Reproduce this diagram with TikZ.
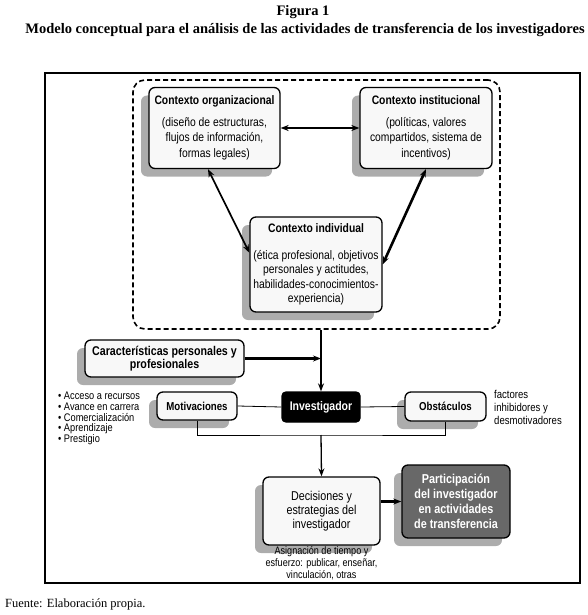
\documentclass[tikz,border=0pt]{standalone}
\usepackage{fontspec}
\setmainfont{Liberation Serif}
\newfontfamily\narrowsans[FakeStretch=0.84]{Liberation Sans}
\usetikzlibrary{arrows.meta,shadows,positioning}
\definecolor{boxfill}{RGB}{248, 248, 248}
\definecolor{shadowgray}{RGB}{172, 172, 172}
\definecolor{darkbox}{RGB}{104, 104, 104}

\tikzset{
  grayshadow/.style={drop shadow={shadow xshift=-8pt, shadow yshift=-8pt, fill=shadowgray, opacity=1}},
  ctxbox/.style={draw, line width=1.3pt, rounded corners=6pt, fill=boxfill, align=center, inner sep=1pt,
    font=\narrowsans\fontsize{12.3}{15.5}\selectfont, grayshadow},
  smallbox/.style={ctxbox, font=\narrowsans\bfseries\fontsize{11.5}{13}\selectfont},
  plaintext/.style={font=\narrowsans\fontsize{11}{10.7}\selectfont, inner sep=0pt},
  link/.style={-{Stealth[length=8pt, width=6pt]}, line width=1.6pt},
  twoway/.style={{Stealth[length=8pt, width=6pt]}-{Stealth[length=8pt, width=6pt]}, line width=1.5pt}
}

\begin{document}
\begin{tikzpicture}[x=1pt, y=-1pt]
  \useasboundingbox (0,0) rectangle (587,615);
  % Title
  \node[font=\bfseries\fontsize{14.5}{16}\selectfont] (fig) at (303,12) {Figura 1};
  \node[font=\bfseries\fontsize{14.5}{16}\selectfont] (title) at (305,30) {Modelo conceptual para el análisis de las actividades de transferencia de los investigadores};
  % Outer frame
  \draw[line width=2.5pt] (45,73) rectangle (580,583);
  % Context group
  \node[draw, dashed, dash pattern=on 5pt off 3pt, line width=1.6pt, rounded corners=12pt,
        minimum width=367pt, minimum height=249pt] (ctx) at (316.5,204.5) {};
  \node[ctxbox, minimum width=131pt, minimum height=81pt] (org) at (214.5,128)
    {{\bfseries Contexto organizacional}\\[6pt](diseño de estructuras,\\flujos de información,\\formas legales)};
  \node[ctxbox, minimum width=132pt, minimum height=81pt] (inst) at (426,128)
    {{\bfseries Contexto institucional}\\[6pt](políticas, valores\\compartidos, sistema de\\incentivos)};
  \node[ctxbox, minimum width=132pt, minimum height=95pt, font=\narrowsans\fontsize{12.3}{14.5}\selectfont] (ind) at (316,264.5)
    {{\bfseries Contexto individual}\\[12pt](ética profesional, objetivos\\personales y actitudes,\\habilidades-conocimientos-\\experiencia)};
  \draw[twoway] (org.east) -- (inst.west);
  \draw[twoway, line width=1.7pt] (org.261) -- (ind.170);
  \draw[twoway, line width=2.6pt] (inst.south) -- (ind.east);
  % Researcher row
  \node[ctxbox, font=\narrowsans\bfseries\fontsize{12.7}{13}\selectfont,
        minimum width=159pt, minimum height=37pt] (carac) at (164.5,358.5)
    {Características personales y\\profesionales};
  \node[draw, line width=1.3pt, rounded corners=4pt, fill=black, text=white, inner sep=1pt,
        font=\narrowsans\bfseries\fontsize{12.5}{13}\selectfont,
        minimum width=78pt, minimum height=30pt] (inv) at (321,407) {Investigador};
  \node[smallbox, minimum width=80pt, minimum height=28pt] (mot) at (197,406) {Motivaciones};
  \node[smallbox, minimum width=81pt, minimum height=29pt] (obs) at (445.5,406.5) {Obstáculos};
  \draw[link, line width=2pt] (ctx.south -| inv) -- (inv.north);
  \draw[link, line width=2.6pt] (carac.east) -- (carac.east -| inv);
  \draw[line width=0.8pt] (mot.east) -- (inv.west);
  \draw[line width=0.8pt] (inv.east) -- (obs.west);
  \node[plaintext, anchor=north west, align=left] (goals) at (58,392)
    {• Acceso a recursos\\• Avance en carrera\\• Comercialización\\• Aprendizaje\\• Prestigio};
  \node[plaintext, anchor=north west, align=left, font=\narrowsans\fontsize{11.4}{13}\selectfont] (factors) at (494,390)
    {factores\\inhibidores y\\desmotivadores};
  % Decisions and outcome
  \coordinate (join) at (321,435);
  \node[ctxbox, font=\narrowsans\fontsize{12.8}{14}\selectfont,
        minimum width=117pt, minimum height=68pt] (dec) at (321.5,511)
    {Decisiones y\\estrategias del\\investigador};
  \node[draw, line width=1.3pt, rounded corners=6pt, fill=darkbox, text=white, align=center, inner sep=1pt,
        font=\narrowsans\bfseries\fontsize{12.9}{15}\selectfont, grayshadow,
        minimum width=108pt, minimum height=73pt] (part) at (456,501.5)
    {Participación\\del investigador\\en actividades\\de transferencia};
  \draw[line width=0.8pt] (mot.south) |- (join) -| (obs.south);
  \draw[link, line width=1.3pt] (join) -- (dec.north);
  \draw[link, line width=3pt] (dec.east |- part.west) -- (part.west);
  \node[plaintext, align=center, below=1pt of dec, font=\narrowsans\fontsize{10.8}{12}\selectfont] (alloc)
    {Asignación de tiempo y\\esfuerzo: publicar, enseñar,\\vinculación, otras};
  % Source
  \node[anchor=west, inner sep=0pt, font=\fontsize{12.5}{14}\selectfont] (src) at (5,604) {Fuente: Elaboración propia.};
\end{tikzpicture}
\end{document}
